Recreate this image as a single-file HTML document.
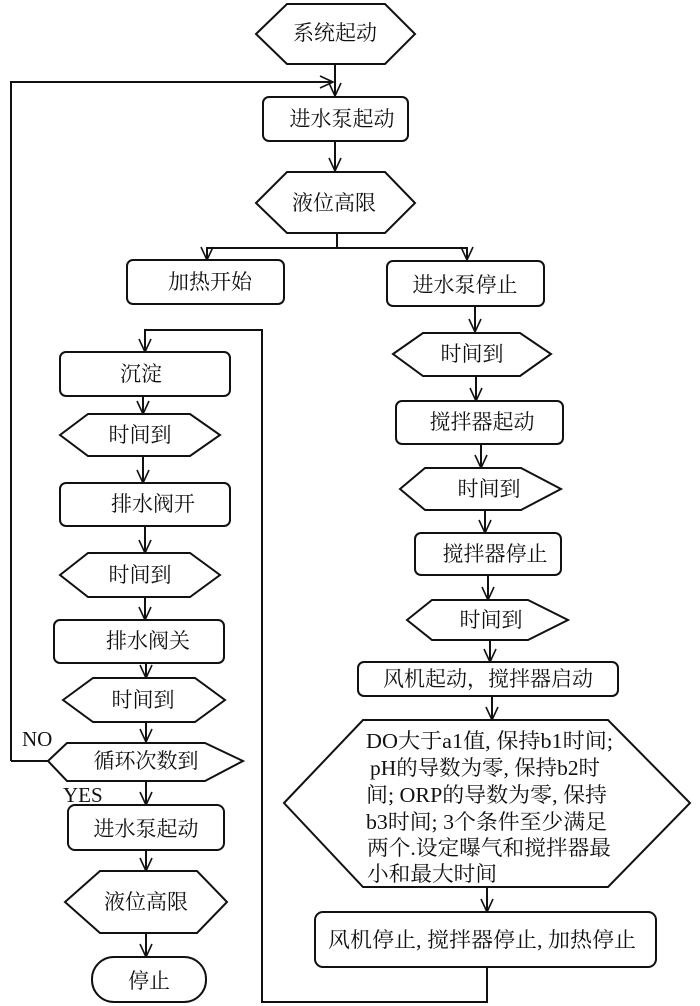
<!DOCTYPE html>
<html><head><meta charset="utf-8"><style>
html,body{margin:0;padding:0;background:#fff}
svg{display:block}
text{font-family:"Liberation Serif","Noto Serif CJK SC",serif;font-size:21px;fill:#111;dominant-baseline:central}
.s{fill:#fff;stroke:#111;stroke-width:2}
.l{fill:none;stroke:#111;stroke-width:2}
.a{fill:none;stroke:#111;stroke-width:1.6}
</style></head><body>
<svg width="700" height="1006" viewBox="0 0 700 1006" xmlns="http://www.w3.org/2000/svg">
<defs>
<marker id="m" markerWidth="16" markerHeight="16" refX="14" refY="7" orient="auto" markerUnits="userSpaceOnUse">
<path d="M1,1 L14,7 L1,13" class="a"/></marker>
</defs>
<!-- connectors -->
<g class="l">
<line x1="335" y1="65" x2="335" y2="96" marker-end="url(#m)"/>
<polyline points="11,761 11,82 333,82" marker-end="url(#m)"/>
<line x1="335" y1="141" x2="335" y2="171" marker-end="url(#m)"/>
<polyline points="337,233 337,248 207,248 207,260" marker-end="url(#m)"/>
<polyline points="337,248 467,248 467,260" marker-end="url(#m)"/>
<line x1="475" y1="306" x2="475" y2="332" marker-end="url(#m)"/>
<polyline points="487,967 487,1002 262,1002 262,330 145,330 145,352" marker-end="url(#m)"/>
<line x1="143" y1="396" x2="143" y2="414" marker-end="url(#m)"/>
<line x1="143" y1="456" x2="143" y2="483" marker-end="url(#m)"/>
<line x1="145" y1="526" x2="145" y2="553" marker-end="url(#m)"/>
<line x1="145" y1="597" x2="145" y2="620" marker-end="url(#m)"/>
<line x1="146" y1="663" x2="146" y2="678" marker-end="url(#m)"/>
<line x1="146" y1="722" x2="146" y2="742" marker-end="url(#m)"/>
<line x1="48" y1="761" x2="11" y2="761"/>
<line x1="146" y1="781" x2="146" y2="805" marker-end="url(#m)"/>
<line x1="146" y1="850" x2="146" y2="871" marker-end="url(#m)"/>
<line x1="146" y1="933" x2="146" y2="957" marker-end="url(#m)"/>
<line x1="476" y1="376" x2="476" y2="401" marker-end="url(#m)"/>
<line x1="481" y1="444" x2="481" y2="468" marker-end="url(#m)"/>
<line x1="485" y1="510" x2="485" y2="533" marker-end="url(#m)"/>
<line x1="488" y1="575" x2="488" y2="600" marker-end="url(#m)"/>
<line x1="490" y1="640" x2="490" y2="662" marker-end="url(#m)"/>
<line x1="492" y1="696" x2="492" y2="720" marker-end="url(#m)"/>
<line x1="487" y1="887" x2="487" y2="912" marker-end="url(#m)"/>
</g>
<!-- shapes -->
<polygon class="s" points="256,34 287,4 385,4 415,34 385,64 287,64"/>
<rect class="s" x="263" y="97" width="145" height="44" rx="6"/>
<polygon class="s" points="256,203 287,172 385,172 415,203 385,233 287,233"/>
<rect class="s" x="127" y="260" width="157" height="44" rx="6"/>
<rect class="s" x="387" y="261" width="157" height="45" rx="6"/>
<rect class="s" x="60" y="352" width="170" height="44" rx="6"/>
<polygon class="s" points="60,435 88,414 190,414 220,435 190,456 88,456"/>
<rect class="s" x="60" y="483" width="170" height="43" rx="6"/>
<polygon class="s" points="60,575 88,553 190,553 220,575 190,597 88,597"/>
<rect class="s" x="54" y="620" width="170" height="43" rx="6"/>
<polygon class="s" points="63,700 93,678 195,678 225,700 195,722 93,722"/>
<polygon class="s" points="48,761 67,743 205,743 243,761 205,781 67,781"/>
<rect class="s" x="68" y="805" width="156" height="45" rx="7"/>
<polygon class="s" points="65,902 100,871 197,871 227,902 197,933 100,933"/>
<rect class="s" x="92" y="957" width="114" height="45" rx="22"/>
<polygon class="s" points="393,354 423,333 520,333 551,354 520,376 423,376"/>
<rect class="s" x="396" y="401" width="167" height="43" rx="6"/>
<polygon class="s" points="400,489 425,468 521,468 561,489 521,510 425,510"/>
<rect class="s" x="415" y="533" width="146" height="42" rx="6"/>
<polygon class="s" points="407,620 432,600 528,600 568,620 528,640 432,640"/>
<rect class="s" x="358" y="662" width="260" height="34" rx="6"/>
<polygon class="s" points="284,803 363,720 608,720 690,803 608,887 363,887"/>
<rect class="s" x="315" y="912" width="341" height="55" rx="8"/>
<!-- labels -->
<text x="335" y="33" text-anchor="middle">系统起动</text>
<text x="342" y="119" text-anchor="middle">进水泵起动</text>
<text x="334" y="203" text-anchor="middle">液位高限</text>
<text x="210" y="282" text-anchor="middle">加热开始</text>
<text x="465" y="285" text-anchor="middle">进水泵停止</text>
<text x="141" y="374" text-anchor="middle">沉淀</text>
<text x="140" y="435" text-anchor="middle">时间到</text>
<text x="153" y="504" text-anchor="middle">排水阀开</text>
<text x="140" y="575" text-anchor="middle">时间到</text>
<text x="148" y="641" text-anchor="middle">排水阀关</text>
<text x="143" y="700" text-anchor="middle">时间到</text>
<text x="146" y="761" text-anchor="middle">循环次数到</text>
<text x="22" y="739">NO</text>
<text x="63" y="795">YES</text>
<text x="146" y="829" text-anchor="middle">进水泵起动</text>
<text x="146" y="902" text-anchor="middle">液位高限</text>
<text x="149" y="981" text-anchor="middle">停止</text>
<text x="472" y="354" text-anchor="middle">时间到</text>
<text x="482" y="422" text-anchor="middle">搅拌器起动</text>
<text x="489" y="489" text-anchor="middle">时间到</text>
<text x="495" y="554" text-anchor="middle">搅拌器停止</text>
<text x="491" y="620" text-anchor="middle">时间到</text>
<text x="488" y="679" text-anchor="middle">风机起动，搅拌器启动</text>
<text x="366" y="741" textLength="247" lengthAdjust="spacingAndGlyphs">DO大于a1值, 保持b1时间;</text>
<text x="370" y="768" textLength="230" lengthAdjust="spacingAndGlyphs">pH的导数为零, 保持b2时</text>
<text x="366" y="795" textLength="241" lengthAdjust="spacingAndGlyphs">间; ORP的导数为零, 保持</text>
<text x="366" y="822" textLength="241" lengthAdjust="spacingAndGlyphs">b3时间; 3个条件至少满足</text>
<text x="367" y="848" textLength="244" lengthAdjust="spacingAndGlyphs">两个.设定曝气和搅拌器最</text>
<text x="367" y="874" textLength="130" lengthAdjust="spacingAndGlyphs">小和最大时间</text>
<text x="328" y="940" textLength="308" lengthAdjust="spacingAndGlyphs">风机停止, 搅拌器停止, 加热停止</text>
</svg>
</body></html>
